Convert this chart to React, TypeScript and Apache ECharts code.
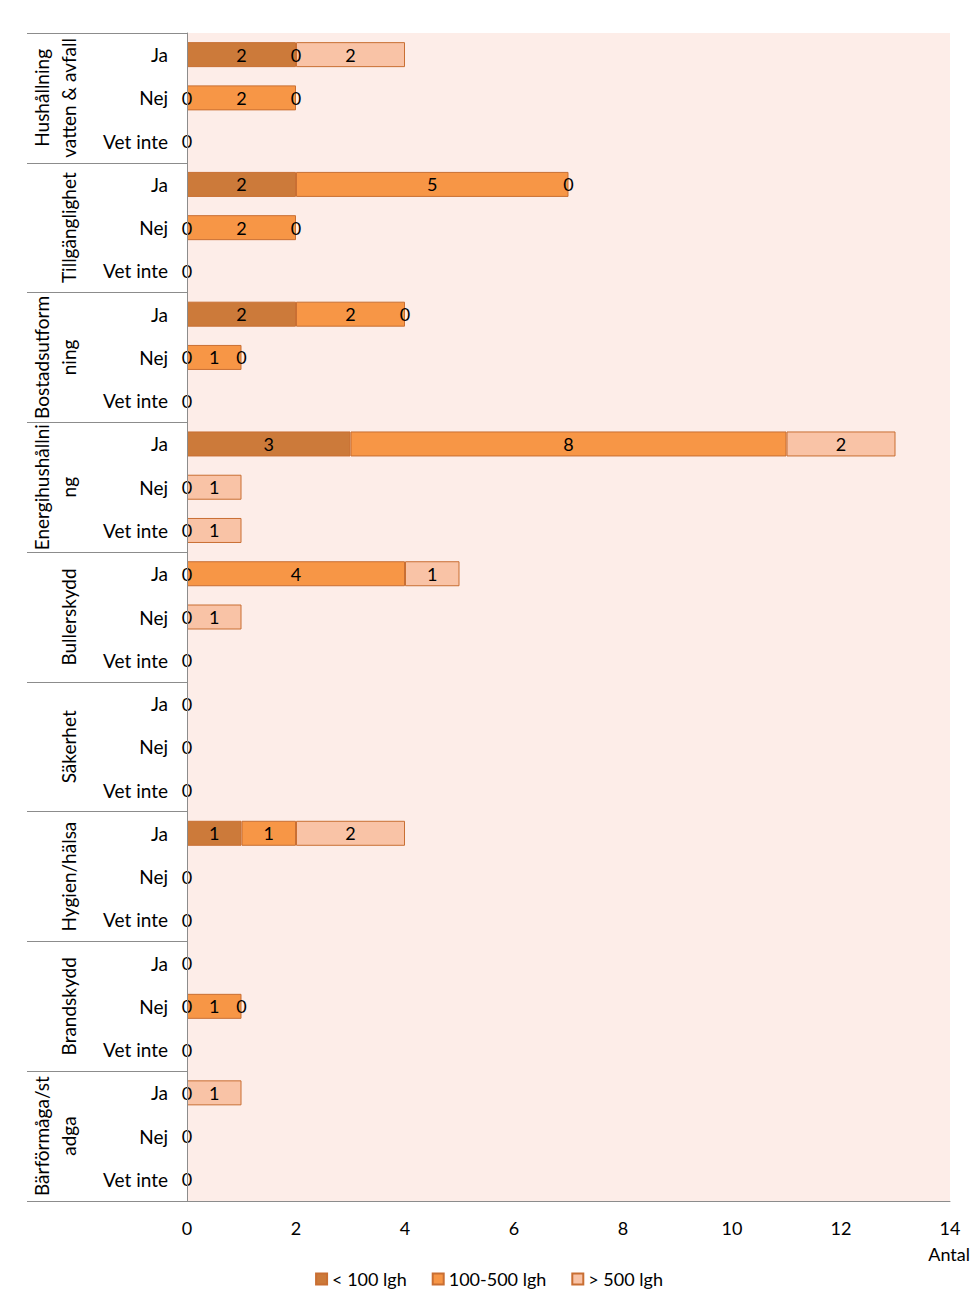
import React, { useEffect, useRef } from "react";
import * as echarts from "echarts";

const groups = [
  "Hushållning\nvatten & avfall",
  "Tillgänglighet",
  "Bostadsutform\nning",
  "Energihushållni\nng",
  "Bullerskydd",
  "Säkerhet",
  "Hygien/hälsa",
  "Brandskydd",
  "Bärförmåga/st\nadga",
];
const answers = ["Ja", "Nej", "Vet inte"];
const xTicks = { min: 0, max: 14, interval: 2 };
const seriesNames = ["< 100 lgh", "100-500 lgh", "> 500 lgh"];

// rows: group x answer (Ja, Nej, Vet inte)
const under100 = [2, 0, 0, 2, 0, 0, 2, 0, 0, 3, 0, 0, 0, 0, 0, 0, 0, 0, 1, 0, 0, 0, 0, 0, 0, 0, 0];
const mid100to500 = [0, 2, null, 5, 2, null, 2, 1, null, 8, null, null, 4, null, null, null, null, null, 1, null, null, null, 1, null, null, null, null];
const over500 = [2, 0, null, 0, 0, null, 0, 0, null, 2, 1, 1, 1, 1, null, null, null, null, 2, null, null, null, 0, null, 1, null, null];

const colors = ["#CC7A3A", "#F79646", "#F9C3A6"];
const FONT = "Lato";

export default function App() {
  const ref = useRef<HTMLDivElement>(null);
  useEffect(() => {
    if (!ref.current) return;
    const chart = echarts.init(ref.current, null, { renderer: "svg" });
    const rowLabels: string[] = [];
    groups.forEach(() => answers.forEach((a) => rowLabels.push(a)));
    const values = [under100, mid100to500, over500];
    chart.setOption({
      animation: false,
      textStyle: { fontFamily: FONT },
      grid: { left: 187, right: 28, top: 33, bottom: 112, containLabel: false, backgroundColor: "#FDEDE8", show: true, borderWidth: 0 },
      legend: {
        bottom: 20,
        left: "center",
        itemWidth: 11,
        itemHeight: 11,
        itemGap: 25,
        icon: "rect",
        textStyle: { fontSize: 18, color: "#000", fontFamily: FONT },
        data: seriesNames,
      },
      xAxis: {
        type: "value",
        min: xTicks.min,
        max: xTicks.max,
        interval: xTicks.interval,
        splitLine: { show: false },
        axisTick: { show: false },
        axisLine: { show: true, lineStyle: { color: "#8c8c8c" } },
        axisLabel: { fontSize: 18, color: "#000", margin: 18, fontFamily: FONT },
        name: "Antal",
        nameLocation: "end",
        nameGap: 20,
        nameTextStyle: { fontSize: 18, color: "#000", align: "right", verticalAlign: "top", padding: [44, 0, 0, 0], fontFamily: FONT },
      },
      yAxis: [
        {
          type: "category",
          data: rowLabels,
          inverse: true,
          position: "left",
          z: 5,
          axisLine: { show: true, lineStyle: { color: "#8c8c8c" } },
          axisTick: { show: false },
          axisLabel: { fontSize: 19, color: "#000", margin: 19, interval: 0, fontFamily: FONT },
        },
        {
          type: "category",
          data: groups,
          inverse: true,
          position: "left",
          offset: 0,
          axisLine: { show: false },
          axisTick: { show: true, length: 160, lineStyle: { color: "#8c8c8c" } },
          axisLabel: { fontSize: 19, color: "#000", margin: 105, rotate: 90, interval: 0, lineHeight: 27, fontFamily: FONT },
        },
      ],
      series: seriesNames.map((name, i) => ({
        name,
        type: "bar",
        stack: "total",
        yAxisIndex: 0,
        barWidth: 25,
        data: values[i].map((v) =>
          v === 0 ? { value: v, itemStyle: { borderWidth: 0, opacity: 0 } } : v
        ),
        itemStyle: { color: colors[i], borderColor: "#C96F33", borderWidth: 1 },
        label: { show: true, position: "inside", color: "#000", fontSize: 18, fontFamily: FONT, opacity: 1 },
      })),
    });
    return () => chart.dispose();
  }, []);
  return <div ref={ref} style={{ position: "absolute", left: 0, top: 0, width: 978, height: 1313 }} />;
}
